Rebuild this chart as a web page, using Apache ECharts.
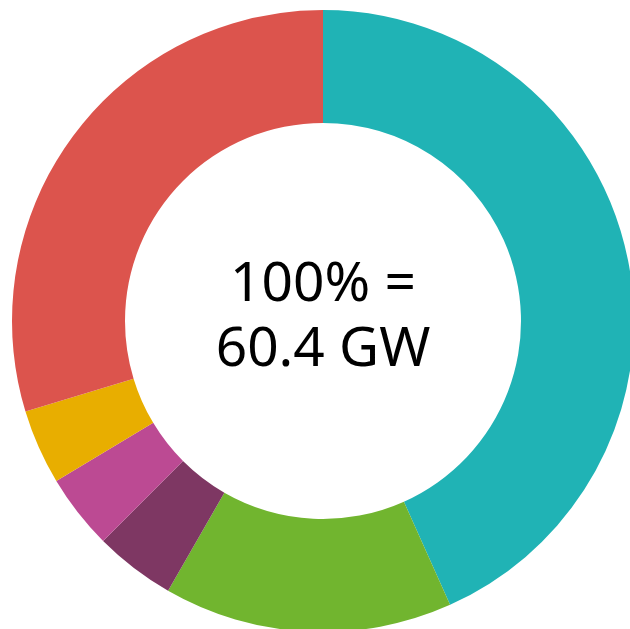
<!DOCTYPE html>
<html>
<head>
<meta charset="utf-8">
<script src="https://cdn.jsdelivr.net/npm/echarts@6/dist/echarts.min.js"></script>
<style>
  html, body { margin: 0; padding: 0; background: #ffffff; }
  #chart { width: 630px; height: 629px; }
</style>
</head>
<body>
<div id="chart"></div>
<script>
// Share of total capacity by segment (percent of 60.4 GW), clockwise from 12 o'clock
const categories = ['Segment A', 'Segment B', 'Segment C', 'Segment D', 'Segment E', 'Segment F'];
const shares = [43.3, 15.0, 4.2, 3.9, 3.9, 29.7];
const colors = ['#20b3b5', '#71b52f', '#7e3763', '#bc4a93', '#e8ae00', '#dc544d'];
const centerLines = ['100% =', '60.4 GW'];

const chart = echarts.init(document.getElementById('chart'), null, { renderer: 'canvas' });

chart.setOption({
  backgroundColor: '#ffffff',
  animation: false,
  series: [{
    type: 'pie',
    center: [323, 321],
    radius: [198, 311],
    startAngle: 90,
    clockwise: true,
    silent: true,
    label: { show: false },
    labelLine: { show: false },
    itemStyle: { borderWidth: 0 },
    data: categories.map((name, i) => ({
      name,
      value: shares[i],
      itemStyle: { color: colors[i] }
    }))
  }],
  graphic: [
    {
      type: 'text',
      x: 323, y: 285,
      style: {
        text: centerLines[0],
        font: '400 55px "Noto Sans", sans-serif',
        fill: '#000000',
        align: 'center',
        verticalAlign: 'middle'
      }
    },
    {
      type: 'text',
      x: 323, y: 350,
      style: {
        text: centerLines[1],
        font: '400 55px "Noto Sans", sans-serif',
        fill: '#000000',
        align: 'center',
        verticalAlign: 'middle'
      }
    }
  ]
});
</script>
</body>
</html>
